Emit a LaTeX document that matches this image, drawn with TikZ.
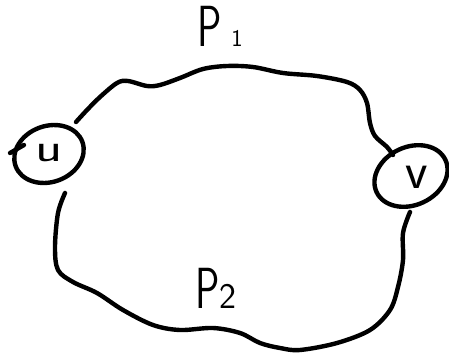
\documentclass[tikz,border=0pt]{standalone}
\usetikzlibrary{shapes.geometric}
\begin{document}
\begin{tikzpicture}[x=1pt,y=-1pt,
  ink/.style={line width=4.4pt, line cap=round, line join=round},
  vertex/.style={ink, draw, ellipse, inner sep=0pt},
  pathlab/.style={font=\sffamily\fontsize{58}{58}\selectfont, inner sep=0pt, anchor=base},
  ulab/.style={font=\sffamily\fontsize{40}{40}\selectfont, xscale=1.4, inner sep=0pt},
  vlab/.style={font=\sffamily\fontsize{52}{52}\selectfont, inner sep=0pt},
  route/.style={ink, smooth, tension=0.55}]
\useasboundingbox (0,0) rectangle (449,353);
% vertices
\node[vertex, minimum width=71pt, minimum height=56pt, rotate=20] (u) at (49,154) {};
\node[vertex, minimum width=76pt, minimum height=58pt, rotate=25] (v) at (411,176) {};
\node[ulab] (ul) at (49,153) {u};
\node[vlab] (vl) at (417,177) {v};
\draw[ink] (10,153) -- (24,145);
% end points of the routes
\coordinate (p1s) at (76,122);
\coordinate (p1e) at (393,155);
\coordinate (p2s) at (65,193);
\coordinate (p2e) at (410,212);
% route P1
\draw[route] plot coordinates {(p1s) (87,110) (100,97) (117,83) (128,81) (147,86) (160,85)
  (180,78) (203,69) (227,66) (253,67) (283,73) (317,76) (347,82) (360,90) (367,103)
  (370,123) (375,136) (387,147) (p1e)};
% route P2
\draw[route] plot coordinates {(p2s) (58,213) (55,247) (58,270) (73,282) (97,293) (123,310)
  (153,325) (180,330) (213,328) (240,333) (260,343) (280,348) (300,350) (337,343)
  (370,330) (390,310) (398,287) (403,260) (403,233) (p2e)};
% labels
\node[pathlab] (P1) at (220,47) {\scalebox{0.7}[1]{P}\,{\fontsize{24}{24}\selectfont 1}};
\node[pathlab] (P2) at (216,308) {\scalebox{0.7}[1]{P}{\fontsize{36}{36}\selectfont 2}};
\end{tikzpicture}
\end{document}
